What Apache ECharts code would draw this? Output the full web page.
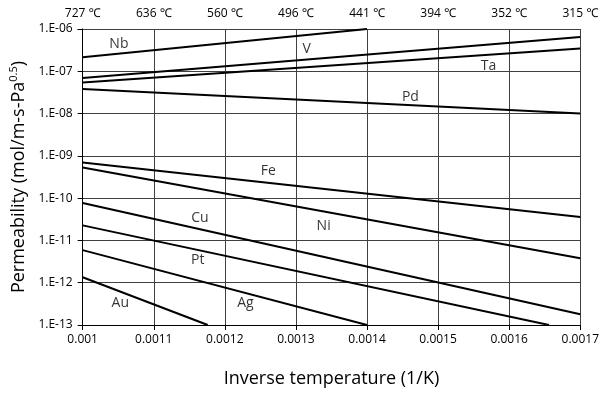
<!DOCTYPE html>
<html>
<head>
<meta charset="utf-8">
<script src="https://cdn.jsdelivr.net/npm/echarts@6/dist/echarts.min.js"></script>
<style>html,body{margin:0;padding:0;background:#fff}#c{width:602px;height:393px}</style>
</head>
<body>
<div id="c"></div>
<script>
// Metal names
const metals = ['Nb', 'V', 'Ta', 'Pd', 'Fe', 'Ni', 'Cu', 'Pt', 'Ag', 'Au'];
// Line endpoints: inverse temperature (1/K)
const xStart = [0.001, 0.001, 0.001, 0.001, 0.001, 0.001, 0.001, 0.001, 0.001, 0.001];
const xEnd   = [0.0014, 0.0017, 0.0017, 0.0017, 0.0017, 0.0017, 0.0017, 0.001656, 0.0014, 0.001176];
// Permeability at the endpoints (mol/m-s-Pa^0.5)
const pStart = [2.16e-7, 6.9e-8, 5.45e-8, 3.8e-8, 7.0e-10, 5.3e-10, 7.7e-11, 2.27e-11, 5.9e-12, 1.35e-12];
const pEnd   = [1.0e-6, 6.5e-7, 3.46e-7, 1.0e-8, 3.56e-11, 3.8e-12, 1.8e-13, 1.0e-13, 1.0e-13, 1.0e-13];
// Label positions
const labelX = [0.001051, 0.001315, 0.001571, 0.001461, 0.001261, 0.001339, 0.001165, 0.001162, 0.001229, 0.001053];
const labelP = [4.5e-7, 3.3e-7, 1.35e-7, 2.4e-8, 4.3e-10, 2.2e-11, 3.35e-11, 3.45e-12, 3.25e-13, 3.25e-13];
// Tick labels
const xTickLabels = ['0.001', '0.0011', '0.0012', '0.0013', '0.0014', '0.0015', '0.0016', '0.0017'];
const topTickLabels = ['727 ℃', '636 ℃', '560 ℃', '496 ℃', '441 ℃', '394 ℃', '352 ℃', '315 ℃'];
const yTickLabels = ['1.E-13', '1.E-12', '1.E-11', '1.E-10', '1.E-09', '1.E-08', '1.E-07', '1.E-06'];

const FONT = '"Open Sans", "Noto Sans", sans-serif';
const chart = echarts.init(document.getElementById('c'), null, {renderer: 'canvas'});

const lineSeries = metals.map((m, i) => ({
  name: m,
  type: 'line',
  xAxisIndex: 0,
  yAxisIndex: 0,
  showSymbol: false,
  symbol: 'none',
  silent: true,
  lineStyle: {color: '#000', width: 2},
  data: [[xStart[i], pStart[i]], [xEnd[i], pEnd[i]]],
  z: 3
}));

const labelSeries = {
  type: 'scatter',
  xAxisIndex: 0,
  yAxisIndex: 0,
  symbolSize: 0,
  silent: true,
  data: metals.map((m, i) => ({value: [labelX[i], labelP[i]], name: m})),
  label: {
    show: true,
    position: 'inside',
    formatter: p => p.name,
    color: '#000',
    fontSize: 14,
    fontFamily: FONT
  },
  z: 4
};

chart.setOption({
  animation: false,
  backgroundColor: '#fff',
  grid: {left: 82, right: 19, top: 29, bottom: 65, containLabel: false},
  xAxis: [
    {
      type: 'value',
      position: 'bottom',
      min: 0.001, max: 0.0017, interval: 0.0001,
      name: 'Inverse temperature (1/K)',
      nameLocation: 'middle',
      nameGap: 45,
      nameTextStyle: {fontSize: 18, color: '#000', fontFamily: FONT},
      axisLine: {show: true, lineStyle: {color: '#000', width: 1}},
      axisTick: {show: true, length: 5, lineStyle: {color: '#000'}},
      axisLabel: {
        fontSize: 12, color: '#000', fontFamily: FONT, margin: 9,
        formatter: (v, i) => xTickLabels[i] !== undefined ? xTickLabels[i] : ''
      },
      splitLine: {show: true, lineStyle: {color: '#404040', width: 1}}
    },
    {
      type: 'value',
      position: 'top',
      min: 0.001, max: 0.0017, interval: 0.0001,
      axisLine: {show: false},
      axisTick: {show: false},
      splitLine: {show: false},
      axisLabel: {
        fontSize: 12, color: '#000', fontFamily: FONT, margin: 9,
        formatter: (v, i) => topTickLabels[i] !== undefined ? topTickLabels[i] : ''
      }
    }
  ],
  yAxis: {
    type: 'log',
    logBase: 10,
    min: 1e-13, max: 1e-6,
    interval: 1,
    splitNumber: 7,
    name: 'Permeability (mol/m-s-Pa{sup|0.5})',
    nameLocation: 'middle',
    nameGap: 51,
    nameTextStyle: {
      fontSize: 18, color: '#000', fontFamily: FONT,
      rich: {sup: {fontSize: 11, color: '#000', fontFamily: FONT, verticalAlign: 'top', padding: [0, 0, 10, 0]}}
    },
    axisLine: {show: true, lineStyle: {color: '#000', width: 1}},
    axisTick: {show: true, length: 5, lineStyle: {color: '#000'}},
    axisLabel: {
      fontSize: 12, color: '#000', fontFamily: FONT, margin: 10,
      formatter: (v, i) => yTickLabels[i] !== undefined ? yTickLabels[i] : ''
    },
    splitLine: {show: true, lineStyle: {color: '#404040', width: 1}}
  },
  series: [...lineSeries, labelSeries]
});
</script>
</body>
</html>
